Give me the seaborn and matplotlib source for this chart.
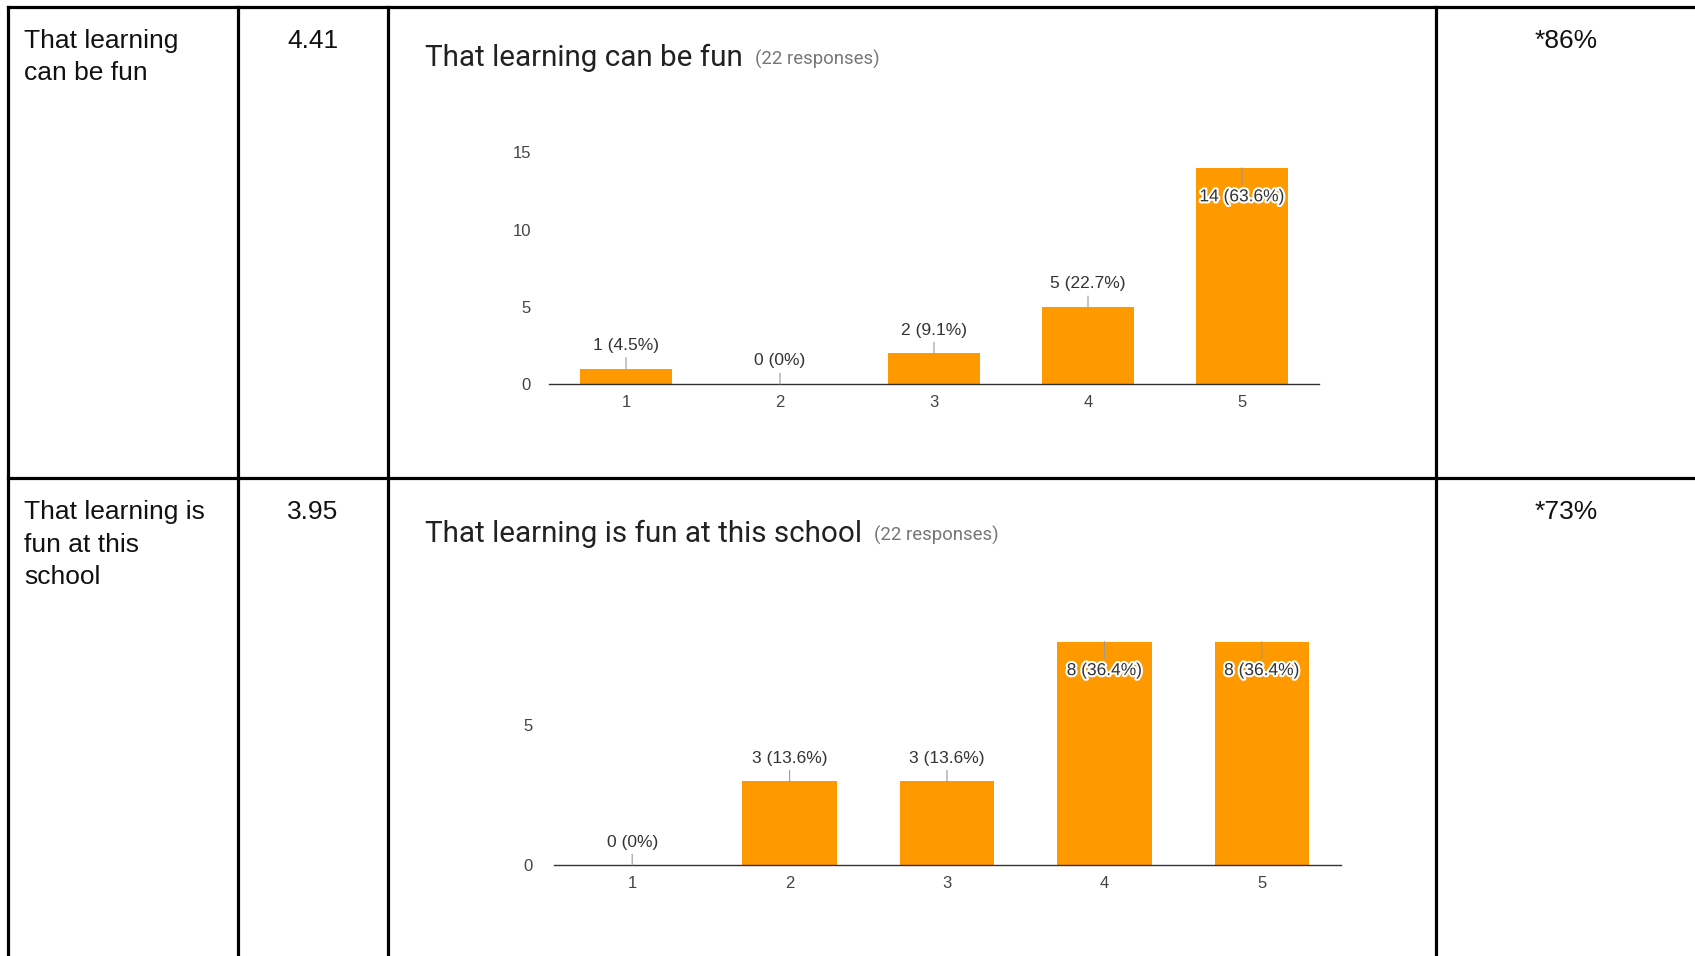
import numpy as np
import pandas as pd
import seaborn as sns
import matplotlib.pyplot as plt
import matplotlib.patheffects as pe
from matplotlib.lines import Line2D

# === DATA ===
row_labels = [["That learning", "can be fun"],
              ["That learning is", "fun at this", "school"]]
means = ["4.41", "3.95"]
agree = ["*86%", "*73%"]
titles = ["That learning can be fun", "That learning is fun at this school"]
subtitle = "(22 responses)"
ratings = ["1", "2", "3", "4", "5"]
counts_fun = [1, 0, 2, 5, 14]
pct_fun = ["4.5%", "0%", "9.1%", "22.7%", "63.6%"]
counts_school = [0, 3, 3, 8, 8]
pct_school = ["0%", "13.6%", "13.6%", "36.4%", "36.4%"]
yticks_fun = [0, 5, 10, 15]
yticks_school = [0, 5]

ORANGE = "#ff9900"

sns.set_style("white")
plt.rcParams['font.family'] = ['Liberation Sans', 'DejaVu Sans']

# pixel helpers (figure is 1695 x 956 px)
W, H = 1695, 956
def fx(px):
    return px / W
def fy(py):
    return 1 - py / H

fig = plt.figure(figsize=(W / 100, H / 100), dpi=100)

# === TABLE GRID ===
for x in [8, 238, 388, 1436]:
    fig.add_artist(Line2D([fx(x)] * 2, [fy(7), 0], color="black", lw=2.3,
                          solid_capstyle="projecting"))
for y in [7, 478]:
    fig.add_artist(Line2D([fx(8), 1], [fy(y)] * 2, color="black", lw=2.3,
                          solid_capstyle="projecting"))

# === TEXT COLUMNS ===
row_top = [7, 478]
for r in range(2):
    base = row_top[r] + 41
    for k, line in enumerate(row_labels[r]):
        fig.text(fx(24), fy(base + k * 32.5), line, fontsize=19, color="#111",
                 va="baseline", ha="left")
    fig.text(fx(313), fy(base), means[r], fontsize=19, color="#111",
             va="baseline", ha="center")
    fig.text(fx(1566), fy(base), agree[r], fontsize=19, color="#111",
             va="baseline", ha="center")

# === CHARTS ===
charts = [
    dict(counts=counts_fun, pcts=pct_fun, yticks=yticks_fun, ymax=15,
         box=[549, 152.4, 1319, 384], title_y=66, ypad=13),
    dict(counts=counts_school, pcts=pct_school, yticks=yticks_school, ymax=8,
         box=[553.5, 641.6, 1340.5, 865], title_y=542, ypad=15),
]

title_texts = []
for ch, title in zip(charts, titles):
    x0, y0, x1, y1 = ch["box"]
    ax = fig.add_axes([fx(x0), fy(y1), (x1 - x0) / W, (y1 - y0) / H])
    df = pd.DataFrame({"rating": ratings, "count": ch["counts"]})
    sns.barplot(data=df, x="rating", y="count", color=ORANGE, saturation=1,
                width=0.6, linewidth=0, ax=ax)
    ax.set_xlim(-0.5, 4.5)
    ax.set_ylim(0, ch["ymax"])
    ax.set_yticks(ch["yticks"])
    ax.set_xlabel("")
    ax.set_ylabel("")
    for s in ["left", "top", "right"]:
        ax.spines[s].set_visible(False)
    ax.spines["bottom"].set_color("#333333")
    ax.spines["bottom"].set_linewidth(1.0)
    ax.tick_params(axis="y", length=0, pad=ch["ypad"], labelsize=12, labelcolor="#444444")
    ax.tick_params(axis="x", length=0, pad=8, labelsize=12, labelcolor="#444444")
    ax.patch.set_alpha(0)

    # bar value labels with leader lines
    for i, (c, p) in enumerate(zip(ch["counts"], ch["pcts"])):
        inside = c >= ch["ymax"] - 1.5
        off = -29 if inside else 23
        ann = ax.annotate(f"{c} ({p})", xy=(i, c), xytext=(0, off),
                          textcoords="offset pixels", ha="center", va="center",
                          fontsize=12.5, color="#333333", annotation_clip=False,
                          arrowprops=dict(arrowstyle="-", color="#999999", lw=0.8,
                                          shrinkA=1, shrinkB=0))
        if inside:
            ann.set_path_effects([pe.withStroke(linewidth=3, foreground="white")])

    # chart title
    t = fig.text(fx(425), fy(ch["title_y"]), title, fontsize=21.3, color="#212121",
                 family=["Roboto", "DejaVu Sans"], va="baseline", ha="left")
    title_texts.append((t, ch["title_y"]))

# response count placed right after each title
fig.canvas.draw()
renderer = fig.canvas.get_renderer()
for t, ty in title_texts:
    ext = t.get_window_extent(renderer)
    fig.text((ext.x1 + 12) / W, fy(ty - 1), subtitle, fontsize=13.4, color="#777777",
             family=["Roboto", "DejaVu Sans"], va="baseline", ha="left")

fig.savefig("out.png", dpi=100)
